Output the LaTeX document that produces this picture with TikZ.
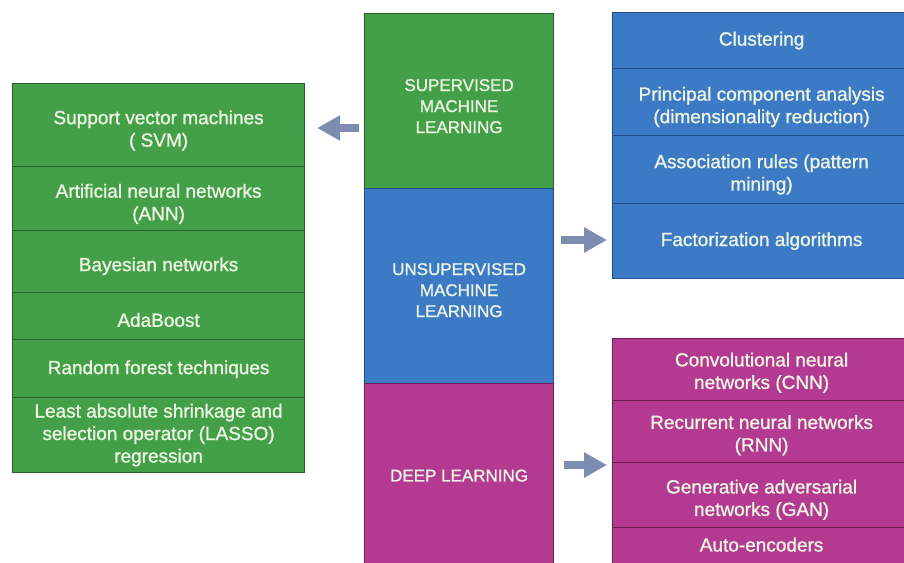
\documentclass[tikz,border=0pt]{standalone}
\usepackage{fontspec}
\setmainfont{Liberation Sans}[BoldFont={Liberation Sans}, BoldFeatures={FakeBold=1.2}]
\usetikzlibrary{arrows.meta}
\definecolor{gfill}{RGB}{68,160,72}
\definecolor{gline}{RGB}{40,95,45}
\definecolor{bfill}{RGB}{61,122,198}
\definecolor{bline}{RGB}{35,75,135}
\definecolor{mfill}{RGB}{180,58,145}
\definecolor{mline}{RGB}{110,30,85}
\definecolor{txt}{RGB}{236,244,226}
\definecolor{arr}{RGB}{125,141,178}
\newcommand{\dn}[1]{\rule{0pt}{#1pt}}
\newcommand{\up}[1]{\rule[-#1pt]{0pt}{0pt}}
\begin{document}
\begin{tikzpicture}[x=1pt,y=-1pt,
  box/.style={draw, line width=1.2pt, rectangle, inner sep=0pt, anchor=north west, align=center, text=txt},
  item/.style={box, font=\fontsize{19}{22.5}\selectfont\bfseries},
  head/.style={box, font=\fontsize{17}{21}\selectfont\bfseries},
  gbox/.style={fill=gfill, draw=gline},
  bbox/.style={fill=bfill, draw=bline},
  mbox/.style={fill=mfill, draw=mline},
  bigarrow/.style={draw=arr, line width=8.5pt, -{Triangle[length=23pt,width=24pt]}}
]
\clip (0,0) rectangle (904,562);
\fill[white] (0,0) rectangle (904,562);
% left column
\node[item,gbox,minimum width=292,minimum height=83] (svm) at (12,83) {\dn{24.5}Support vector machines\\( SVM)};
\node[item,gbox,minimum width=292,minimum height=64] (ann) at (12,166) {\dn{24.5}Artificial neural networks\\(ANN)};
\node[item,gbox,minimum width=292,minimum height=62] (bay) at (12,230) {\dn{23}Bayesian networks};
\node[item,gbox,minimum width=292,minimum height=47] (ada) at (12,292) {\dn{21.5}AdaBoost};
\node[item,gbox,minimum width=292,minimum height=58] (rf) at (12,339) {\dn{15}Random forest techniques};
\node[item,gbox,minimum width=292,minimum height=75] (lasso) at (12,397) {Least absolute shrinkage and\\selection operator (LASSO)\\regression};
% centre column
\node[head,gbox,minimum width=189,minimum height=175] (sup) at (364,13) {\dn{22}SUPERVISED\\MACHINE\\LEARNING};
\node[head,bbox,minimum width=189,minimum height=195] (uns) at (364,188) {\dn{20}UNSUPERVISED\\MACHINE\\LEARNING};
\node[head,mbox,minimum width=189,minimum height=184] (deep) at (364,383) {DEEP LEARNING};
% right blue
\node[item,bbox,minimum width=298,minimum height=56] (clus) at (612,12) {Clustering};
\node[item,bbox,minimum width=298,minimum height=67] (pca) at (612,68) {\dn{23.5}Principal component analysis\\(dimensionality reduction)};
\node[item,bbox,minimum width=298,minimum height=68] (assoc) at (612,135) {\dn{23.5}Association rules (pattern\\mining)};
\node[item,bbox,minimum width=298,minimum height=75] (fact) at (612,203) {Factorization algorithms};
% right magenta
\node[item,mbox,minimum width=298,minimum height=62] (cnn) at (612,338) {\dn{20}Convolutional neural\\networks (CNN)};
\node[item,mbox,minimum width=298,minimum height=62] (rnn) at (612,400) {\dn{21}Recurrent neural networks\\(RNN)};
\node[item,mbox,minimum width=298,minimum height=65] (gan) at (612,462) {\dn{23}Generative adversarial\\networks (GAN)};
\node[item,mbox,minimum width=298,minimum height=40] (auto) at (612,527) {Auto-encoders\up{6}};
% arrows
\coordinate (y1) at (0,128);
\coordinate (y2) at (0,240);
\coordinate (y3) at (0,465);
\draw[bigarrow, shorten <=5pt, shorten >=12pt] (sup.west |- y1) -- (svm.east |- y1);
\draw[bigarrow, shorten <=7pt, shorten >=5pt] (uns.east |- y2) -- (fact.west |- y2);
\draw[bigarrow, shorten <=10pt, shorten >=5pt] (deep.east |- y3) -- (gan.west |- y3);
\end{tikzpicture}
\end{document}
